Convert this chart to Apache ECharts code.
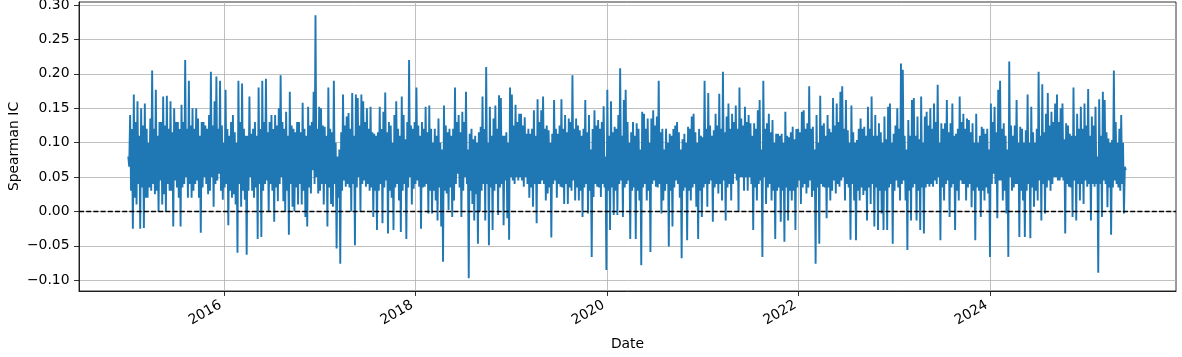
<!DOCTYPE html>
<html>
<head>
<meta charset="utf-8">
<script src="https://cdn.jsdelivr.net/npm/echarts@6/dist/echarts.min.js"></script>
<style>
html,body{margin:0;padding:0;background:#fff;}
#chart{width:1182px;height:357px;}
</style>
</head>
<body>
<div id="chart"></div>
<script>
// Daily Spearman IC, read off the reference picture as two readings per week:
// icSegA = the visible spike/dip of each week, icSegB = the opposite edge of the band that week.
const startYear = 2015, startMonth = 0, startDay = 1, halfWeekDays = 3.5;
const icSeg1A = [0.08,0.14,-0.025,0.17,0.01,0.16,-0.025,0.15,-0.024,0.157,0.02,0.10,0.03,0.205,0.025,0.177,0.0,0.13,0.01,0.167,0.0,0.168,0.03,0.16,-0.022,0.15,0.035,0.13,-0.022,0.155,0.04,0.22,0.02,0.19,0.02,0.15,0.04,0.15,0.02,-0.031,0.13,0.05,0.125,0.025,0.14,0.203,0.007,0.16,0.196,0.055,0.19,0.017,0.10,0.177,-0.02,0.11,0.02,0.14,0.01,-0.06,0.19,0.007,0.186,0.017,-0.063,0.11,0.167];
const icSeg1B = [0.065,0.03,0.12,0.02,0.13,0.04,0.11,0.035,0.125,0.02,0.12,0.035,0.135,0.04,0.12,0.03,0.11,0.045,0.13,0.025,0.125,0.04,0.12,0.03,0.115,0.045,0.13,0.02,0.12,0.035,0.13,0.05,0.12,0.04,0.125,0.03,0.12,0.045,0.135,0.11,0.035,0.13,0.04,0.12,0.03,0.05,0.125,0.04,0.045,0.12,0.03,0.125,0.035,0.04,0.12,0.03,0.13,0.025,0.115,0.10,0.04,0.13,0.03,0.12,0.11,0.03,0.05];
const icSeg2A = [0.113,0.02,0.13,-0.04,0.18,-0.037,0.19,0.04,0.193,0.0,0.13,0.14,-0.015,0.14,0.015,0.15,0.198,0.015,0.0,0.145,-0.034,0.174,0.007,0.0,0.115,0.01,0.13,0.01,0.158,-0.008,-0.022,0.152,0.026,0.06,0.174,0.285,0.026,0.152,0.15,0.01,0.123,-0.022,0.18,0.011,0.007,0.19,-0.054,0.08,-0.076,0.115,0.17,0.036,0.138,0.143,0.0,0.172,-0.049,0.17,0.165,0.0,0.17,0.16,0.036,0.15,0.03,0.152,-0.008,0.113];
const icSeg2B = [0.03,0.12,0.035,0.11,0.04,0.12,0.03,0.13,0.045,0.115,0.04,0.03,0.12,0.035,0.125,0.04,0.05,0.13,0.12,0.03,0.11,0.04,0.125,0.12,0.035,0.13,0.04,0.115,0.03,0.12,0.11,0.035,0.125,0.13,0.04,0.05,0.12,0.03,0.04,0.125,0.04,0.11,0.035,0.12,0.115,0.04,0.10,0.02,0.09,0.03,0.045,0.125,0.04,0.035,0.12,0.04,0.11,0.035,0.05,0.125,0.04,0.045,0.13,0.04,0.12,0.035,0.115,0.03];
const icSeg3A = [-0.027,0.115,0.152,-0.017,0.145,0.173,-0.032,0.13,0.02,-0.027,0.14,0.16,0.016,-0.03,0.167,0.14,-0.04,0.13,0.22,0.01,0.033,0.13,0.18,0.036,-0.025,0.13,0.036,0.152,-0.003,0.154,-0.003,0.10,0.016,-0.013,0.135,-0.022,-0.073,0.154,0.026,0.002,0.12,-0.008,0.016,0.18,0.055,0.14,-0.008,0.145,0.05,0.174,-0.097,0.113,0.011,-0.013,0.11,-0.047,0.0,0.123,0.167,-0.013,0.21,-0.049,0.152,-0.027,0.135,0.154,-0.005,0.169];
const icSeg3B = [0.11,0.03,0.04,0.12,0.035,0.045,0.115,0.03,0.125,0.10,0.035,0.04,0.12,0.11,0.03,0.04,0.105,0.035,0.05,0.125,0.12,0.04,0.045,0.125,0.11,0.035,0.12,0.04,0.115,0.03,0.12,0.03,0.12,0.11,0.035,0.10,0.09,0.03,0.125,0.115,0.035,0.11,0.12,0.04,0.13,0.035,0.115,0.03,0.13,0.04,0.09,0.03,0.12,0.105,0.025,0.10,0.115,0.03,0.04,0.12,0.04,0.10,0.035,0.11,0.03,0.04,0.12,0.035];
const icSeg4A = [0.165,-0.02,0.11,-0.01,-0.041,0.18,0.17,0.04,0.155,0.045,0.142,0.142,0.036,0.137,0.113,0.02,0.113,0.007,0.147,-0.017,0.163,0.04,0.147,0.167,0.016,0.026,0.118,-0.038,0.113,0.162,0.02,0.113,0.036,0.163,0.011,0.14,0.011,0.135,0.03,0.198,0.016,0.135,0.016,0.118,-0.008,0.12,0.162,-0.003,0.14,-0.066,0.021,0.147,0.036,0.133,0.021,0.13,0.153,-0.085,0.177,-0.027,0.16,-0.005,0.123,-0.005,0.14,0.208,-0.008,0.162];
const icSeg4B = [0.04,0.11,0.045,0.115,0.10,0.05,0.045,0.125,0.05,0.13,0.05,0.045,0.125,0.05,0.04,0.12,0.035,0.12,0.04,0.11,0.04,0.13,0.045,0.04,0.12,0.125,0.035,0.10,0.04,0.045,0.12,0.04,0.125,0.035,0.12,0.04,0.115,0.035,0.13,0.045,0.12,0.035,0.125,0.03,0.11,0.035,0.04,0.115,0.03,0.09,0.12,0.04,0.125,0.035,0.12,0.04,0.035,0.08,0.03,0.11,0.035,0.115,0.03,0.12,0.04,0.045,0.11,0.035];
const icSeg5A = [0.177,0.045,-0.04,0.115,0.13,-0.04,0.128,0.016,-0.078,0.145,0.142,0.016,0.135,-0.059,0.135,0.147,0.036,0.138,0.19,-0.003,0.016,0.09,0.04,-0.051,0.113,-0.022,0.12,0.045,0.13,0.02,-0.068,0.105,0.113,-0.042,0.123,0.016,0.138,0.142,0.007,-0.04,0.12,-0.008,0.108,0.19,0.007,0.172,0.045,-0.015,0.118,0.142,0.026,0.171,0.016,0.203,-0.013,0.138,0.157,0.016,0.142,0.055,0.154,0.0,0.18,0.05,0.03,0.152,0.03,0.14];
const icSeg5B = [0.04,0.13,0.10,0.03,0.035,0.11,0.03,0.12,0.09,0.035,0.04,0.12,0.03,0.10,0.04,0.045,0.125,0.035,0.04,0.115,0.12,0.03,0.12,0.10,0.03,0.11,0.035,0.125,0.04,0.115,0.09,0.03,0.035,0.10,0.03,0.12,0.035,0.04,0.115,0.10,0.03,0.11,0.035,0.04,0.12,0.04,0.125,0.11,0.035,0.04,0.125,0.04,0.12,0.045,0.115,0.035,0.04,0.12,0.04,0.13,0.045,0.12,0.05,0.135,0.125,0.05,0.13,0.05];
const icSeg6A = [0.128,-0.027,0.128,0.016,0.147,0.162,-0.066,0.19,0.011,0.128,0.142,0.016,0.133,-0.04,0.113,0.113,-0.015,0.113,-0.044,0.145,-0.013,0.108,0.016,0.123,-0.027,0.12,0.045,0.011,0.145,0.147,0.026,0.128,0.182,0.021,0.123,-0.076,0.14,-0.047,0.168,0.036,0.128,-0.01,0.14,0.016,0.115,0.165,0.026,0.157,0.036,0.174,0.182,0.016,0.162,0.118,-0.041,0.154,0.016,-0.042,0.104,0.016,0.135,0.024,0.123,-0.013,0.152,0.011,0.167,-0.022];
const icSeg6B = [0.04,0.11,0.035,0.12,0.04,0.045,0.09,0.05,0.12,0.035,0.04,0.115,0.03,0.10,0.03,0.035,0.11,0.03,0.10,0.035,0.11,0.03,0.115,0.03,0.105,0.035,0.12,0.115,0.035,0.04,0.12,0.035,0.045,0.12,0.03,0.09,0.035,0.10,0.04,0.125,0.035,0.11,0.035,0.12,0.03,0.045,0.125,0.04,0.13,0.045,0.05,0.12,0.04,0.035,0.10,0.04,0.115,0.10,0.03,0.12,0.035,0.12,0.03,0.11,0.035,0.12,0.04,0.11];
const icSeg7A = [0.14,-0.027,0.128,-0.003,-0.027,0.138,-0.027,0.152,0.157,-0.047,0.113,0.045,0.15,0.016,0.215,0.206,0.016,-0.056,0.133,-0.013,0.162,0.165,-0.013,0.138,-0.027,0.167,-0.032,0.138,0.145,0.036,0.15,0.036,0.157,0.04,0.184,-0.042,0.128,0.016,0.128,0.162,-0.008,0.128,0.157,-0.027,0.113,0.016,0.167,0.04,0.142,0.016,0.135,0.133,0.006,0.128,-0.042,0.142,0.10,-0.008,0.123,0.016,0.113,0.026,-0.066,0.157,0.055,0.152,-0.01,0.177];
const icSeg7B = [0.035,0.11,0.03,0.115,0.10,0.03,0.105,0.035,0.04,0.10,0.03,0.125,0.035,0.12,0.04,0.045,0.11,0.09,0.03,0.11,0.035,0.04,0.11,0.03,0.105,0.035,0.10,0.035,0.04,0.125,0.04,0.12,0.045,0.13,0.05,0.10,0.035,0.12,0.04,0.045,0.115,0.035,0.04,0.11,0.03,0.12,0.045,0.13,0.04,0.12,0.035,0.04,0.115,0.03,0.10,0.035,0.03,0.11,0.03,0.12,0.035,0.12,0.09,0.04,0.13,0.04,0.115,0.045];
const icSeg8A = [0.19,0.016,0.128,-0.003,-0.066,0.218,0.03,0.11,0.04,0.162,-0.037,0.123,0.016,-0.037,0.118,0.17,-0.039,0.152,0.007,0.10,0.016,0.203,-0.013,0.185,-0.003,0.142,0.172,0.03,0.145,0.05,0.157,0.17,0.045,0.15,0.157,-0.032,0.128,0.036,0.113,-0.008,0.18,-0.013,0.142,0.016,0.152,0.011,0.157,0.036,0.178,-0.013,0.138,0.036,0.152,-0.089,0.163,-0.008,0.174,0.162,0.006,0.106,-0.034,0.104,0.205,0.04,0.10,0.03,0.14,-0.003,0.065];
const icSeg8B = [0.045,0.12,0.03,0.11,0.09,0.05,0.125,0.035,0.125,0.04,0.10,0.03,0.12,0.10,0.03,0.04,0.10,0.035,0.115,0.03,0.12,0.045,0.11,0.04,0.115,0.035,0.045,0.125,0.04,0.13,0.05,0.045,0.13,0.05,0.045,0.105,0.04,0.125,0.035,0.11,0.045,0.11,0.04,0.12,0.04,0.12,0.045,0.125,0.04,0.11,0.04,0.125,0.04,0.08,0.04,0.11,0.045,0.04,0.115,0.035,0.10,0.035,0.045,0.13,0.035,0.12,0.04,0.10,0.06];

const xTickYears = [2016, 2018, 2020, 2022, 2024];
const yTicks = [-0.10, -0.05, 0.00, 0.05, 0.10, 0.15, 0.20, 0.25, 0.30];
const zeroLine = 0;

const icA = [].concat(icSeg1A, icSeg2A, icSeg3A, icSeg4A, icSeg5A, icSeg6A, icSeg7A, icSeg8A);
const icB = [].concat(icSeg1B, icSeg2B, icSeg3B, icSeg4B, icSeg5B, icSeg6B, icSeg7B, icSeg8B);
// within each week: the upper reading first, then the lower reading
const icValues = [];
icA.forEach((a, i) => { icValues.push(Math.max(a, icB[i]), Math.min(a, icB[i])); });
const t0 = new Date(startYear, startMonth, startDay).getTime();
const seriesData = icValues.map((v, k) => [t0 + k * halfWeekDays * 86400000, v]);
const xTicks = xTickYears.map(y => new Date(y, 0, 1).getTime());

const FONT = 'DejaVu Sans';
const chart = echarts.init(document.getElementById('chart'), null, {renderer: 'canvas'});
chart.setOption({
  animation: false,
  backgroundColor: '#fff',
  grid: {left: 79, right: 6, top: 2, bottom: 66, outerBoundsMode: 'none', containLabel: false,
         show: true, borderColor: '#000', borderWidth: 0.8, backgroundColor: 'transparent'},
  xAxis: {
    type: 'value',
    min: new Date(2014, 5, 27).getTime(),
    max: new Date(2025, 11, 10).getTime(),
    axisLine: {show: true, onZero: false, lineStyle: {color: '#000', width: 0.8}},
    axisTick: {show: true, customValues: xTicks, length: 5, lineStyle: {color: '#000', width: 0.8}},
    axisLabel: {
      customValues: xTicks, rotate: 30, margin: 11, padding: [0, 4, 0, 0],
      fontSize: 13.9, fontFamily: FONT, color: '#000',
      formatter: v => String(new Date(v).getFullYear())
    },
    splitLine: {show: true, lineStyle: {color: '#b0b0b0', width: 0.8}},
    name: 'Date', nameLocation: 'middle', nameGap: 46, nameMoveOverlap: false,
    nameTextStyle: {fontSize: 13.9, fontFamily: FONT, color: '#000'}
  },
  yAxis: {
    type: 'value',
    min: -0.1156, max: 0.3044,
    axisLine: {show: true, onZero: false, lineStyle: {color: '#000', width: 0.8}},
    axisTick: {show: true, customValues: yTicks, length: 5, lineStyle: {color: '#000', width: 0.8}},
    axisLabel: {
      customValues: yTicks, margin: 9.5, fontSize: 13.9, fontFamily: FONT, color: '#000',
      formatter: v => (v < -1e-9 ? '\u2212' : '') + Math.abs(v).toFixed(2)
    },
    splitLine: {show: true, lineStyle: {color: '#b0b0b0', width: 0.8}},
    name: 'Spearman IC', nameLocation: 'middle', nameGap: 58, nameMoveOverlap: false,
    nameTextStyle: {fontSize: 13.9, fontFamily: FONT, color: '#000'}
  },
  series: [{
    type: 'line',
    data: seriesData,
    showSymbol: false,
    sampling: null,
    lineStyle: {color: '#1f77b4', width: 1.9},
    itemStyle: {color: '#1f77b4'},
    markLine: {
      silent: true, symbol: 'none', animation: false,
      label: {show: false},
      lineStyle: {color: '#000', type: [5, 2.2], width: 1.3},
      data: [{yAxis: zeroLine}]
    }
  }]
});
</script>
</body>
</html>
